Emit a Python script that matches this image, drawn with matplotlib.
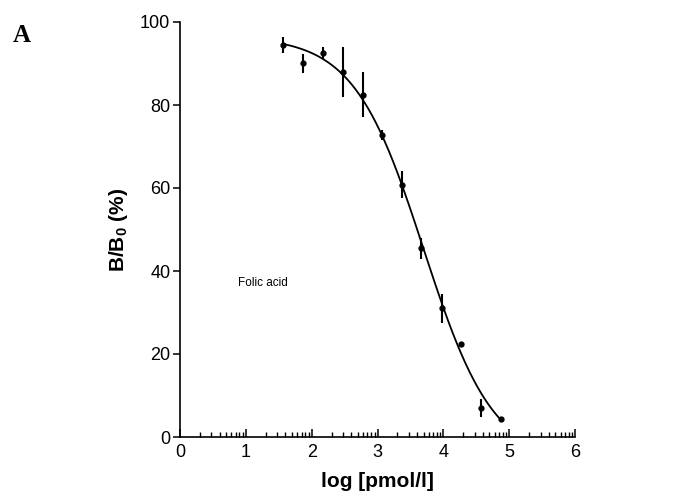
import numpy as np
import matplotlib
matplotlib.use('Agg')
import matplotlib.pyplot as plt
from matplotlib.ticker import FixedLocator

plt.rcParams['font.family'] = ['Liberation Sans', 'DejaVu Sans']
plt.rcParams['mathtext.fontset'] = 'custom'
plt.rcParams['mathtext.rm'] = 'Liberation Sans'
plt.rcParams['mathtext.bf'] = 'Liberation Sans:bold'

# data
log_conc = [1.57, 1.87, 2.17, 2.48, 2.78, 3.07, 3.37, 3.66, 3.98, 4.27, 4.57, 4.88]
b_b0 = [94.5, 90.0, 92.5, 88.0, 82.5, 72.8, 60.8, 45.5, 31.0, 22.3, 7.0, 4.4]
err = [2.0, 2.3, 1.5, 6.0, 5.5, 1.2, 3.2, 2.5, 3.5, 0.6, 2.2, 0.3]

# 4-parameter logistic fit, parameters estimated from the drawn curve
top, bottom, logic50, hill = 96.5, -6.0, 3.70, 0.82

fig = plt.figure(figsize=(6.88, 5.0), dpi=100)
ax = fig.add_axes([0.2616, 0.126, 0.5744, 0.830])

xs = np.linspace(min(log_conc), max(log_conc), 200)
fit = bottom + (top - bottom) / (1 + 10 ** ((xs - logic50) * hill))
ax.plot(xs, fit, color='black', lw=1.3)
ax.errorbar(log_conc, b_b0, yerr=err, fmt='o', ms=3.5, color='black',
            ecolor='black', elinewidth=1.5, capsize=0)

ax.set_xlim(0, 6)
ax.set_ylim(0, 100)
ax.spines['top'].set_visible(False)
ax.spines['right'].set_visible(False)
ax.spines['left'].set_linewidth(1.2)
ax.spines['bottom'].set_linewidth(1.2)

ax.set_xticks(range(7))
minor = [d + np.log10(k) for d in range(6) for k in range(2, 10)]
ax.xaxis.set_minor_locator(FixedLocator(minor))
ax.tick_params(axis='x', which='major', direction='in', length=6, width=1.1,
               labelsize=13, pad=5)
ax.tick_params(axis='x', which='minor', direction='in', length=3.5, width=1.0)
ax.set_yticks([0, 20, 40, 60, 80, 100])
ax.tick_params(axis='y', which='major', direction='out', length=5, width=1.1,
               labelsize=13, pad=2)

ax.set_xlabel('log [pmol/l]', fontsize=15, fontweight='bold', labelpad=8)
ax.set_ylabel(r'B/B$\mathbf{_0}$ (%)', fontsize=15, fontweight='bold', labelpad=7)

ax.text(0.88, 37, 'Folic acid', fontsize=8.5, va='center', ha='left')
fig.text(0.018, 0.93, 'A', fontsize=18, fontweight='bold',
         family='Liberation Serif', va='center')

fig.savefig('out.png', dpi=100)
